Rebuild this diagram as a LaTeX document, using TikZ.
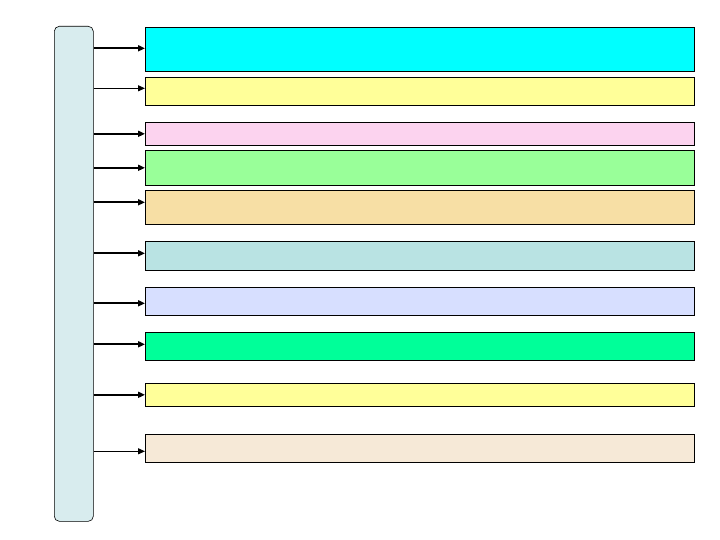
\documentclass[tikz,border=0pt]{standalone}
\definecolor{barteal}{HTML}{D8ECEE}
\definecolor{cyanbox}{HTML}{00FFFF}
\definecolor{lemon}{HTML}{FFFF99}
\definecolor{pinkbox}{HTML}{FCD3EF}
\definecolor{mint}{HTML}{99FF99}
\definecolor{wheat}{HTML}{F7DFA5}
\definecolor{tealbox}{HTML}{B9E3E3}
\definecolor{lavender}{HTML}{D7DFFF}
\definecolor{springgreen}{HTML}{00FF99}
\definecolor{linen}{HTML}{F6E9D7}
\usetikzlibrary{arrows.meta,positioning}

\begin{document}
\begin{tikzpicture}[x=1pt, y=-1pt,
  bar/.style={rectangle, draw=black, line width=0.6pt, rounded corners=5pt, fill=barteal, minimum width=39pt, minimum height=495pt, inner sep=0pt, anchor=north west},
  band/.style={rectangle, draw=black, line width=0.6pt, minimum width=549pt, inner sep=0pt, anchor=north west},
  conn/.style={-{Triangle[length=7pt,width=6pt]}, line width=2pt},
  thinconn/.style={-{Triangle[length=7pt,width=6pt]}, line width=1pt}]
\useasboundingbox (0,0) rectangle (720,540);
\node[bar] (side) at (54,26) {};
\node[band, fill=cyanbox, minimum height=44pt] (b1) at (145,27) {};
\node[band, fill=lemon, minimum height=28pt] (b2) at (145,77) {};
\node[band, fill=pinkbox, minimum height=23pt] (b3) at (145,122) {};
\node[band, fill=mint, minimum height=35pt] (b4) at (145,150) {};
\node[band, fill=wheat, minimum height=34pt] (b5) at (145,190) {};
\node[band, fill=tealbox, minimum height=29pt] (b6) at (145,241) {};
\node[band, fill=lavender, minimum height=28pt] (b7) at (145,287) {};
\node[band, fill=springgreen, minimum height=28pt] (b8) at (145,332) {};
\node[band, fill=lemon, minimum height=23pt] (b9) at (145,383) {};
\node[band, fill=linen, minimum height=28pt] (b10) at (145,434) {};
\draw[conn] ([yshift=1pt]side.east |- b1.west) -- ([yshift=1pt]b1.west);
\draw[thinconn] ([yshift=3pt]side.east |- b2.west) -- ([yshift=3pt]b2.west);
\draw[conn] (side.east |- b3.west) -- (b3.west);
\draw[conn] (side.east |- b4.west) -- (b4.west);
\draw[conn] ([yshift=5pt]side.east |- b5.west) -- ([yshift=5pt]b5.west);
\draw[conn] ([yshift=2.5pt]side.east |- b6.west) -- ([yshift=2.5pt]b6.west);
\draw[conn] ([yshift=-2pt]side.east |- b7.west) -- ([yshift=-2pt]b7.west);
\draw[conn] ([yshift=2pt]side.east |- b8.west) -- ([yshift=2pt]b8.west);
\draw[conn] (side.east |- b9.west) -- (b9.west);
\draw[thinconn] ([yshift=-3pt]side.east |- b10.west) -- ([yshift=-3pt]b10.west);
\end{tikzpicture}
\end{document}
